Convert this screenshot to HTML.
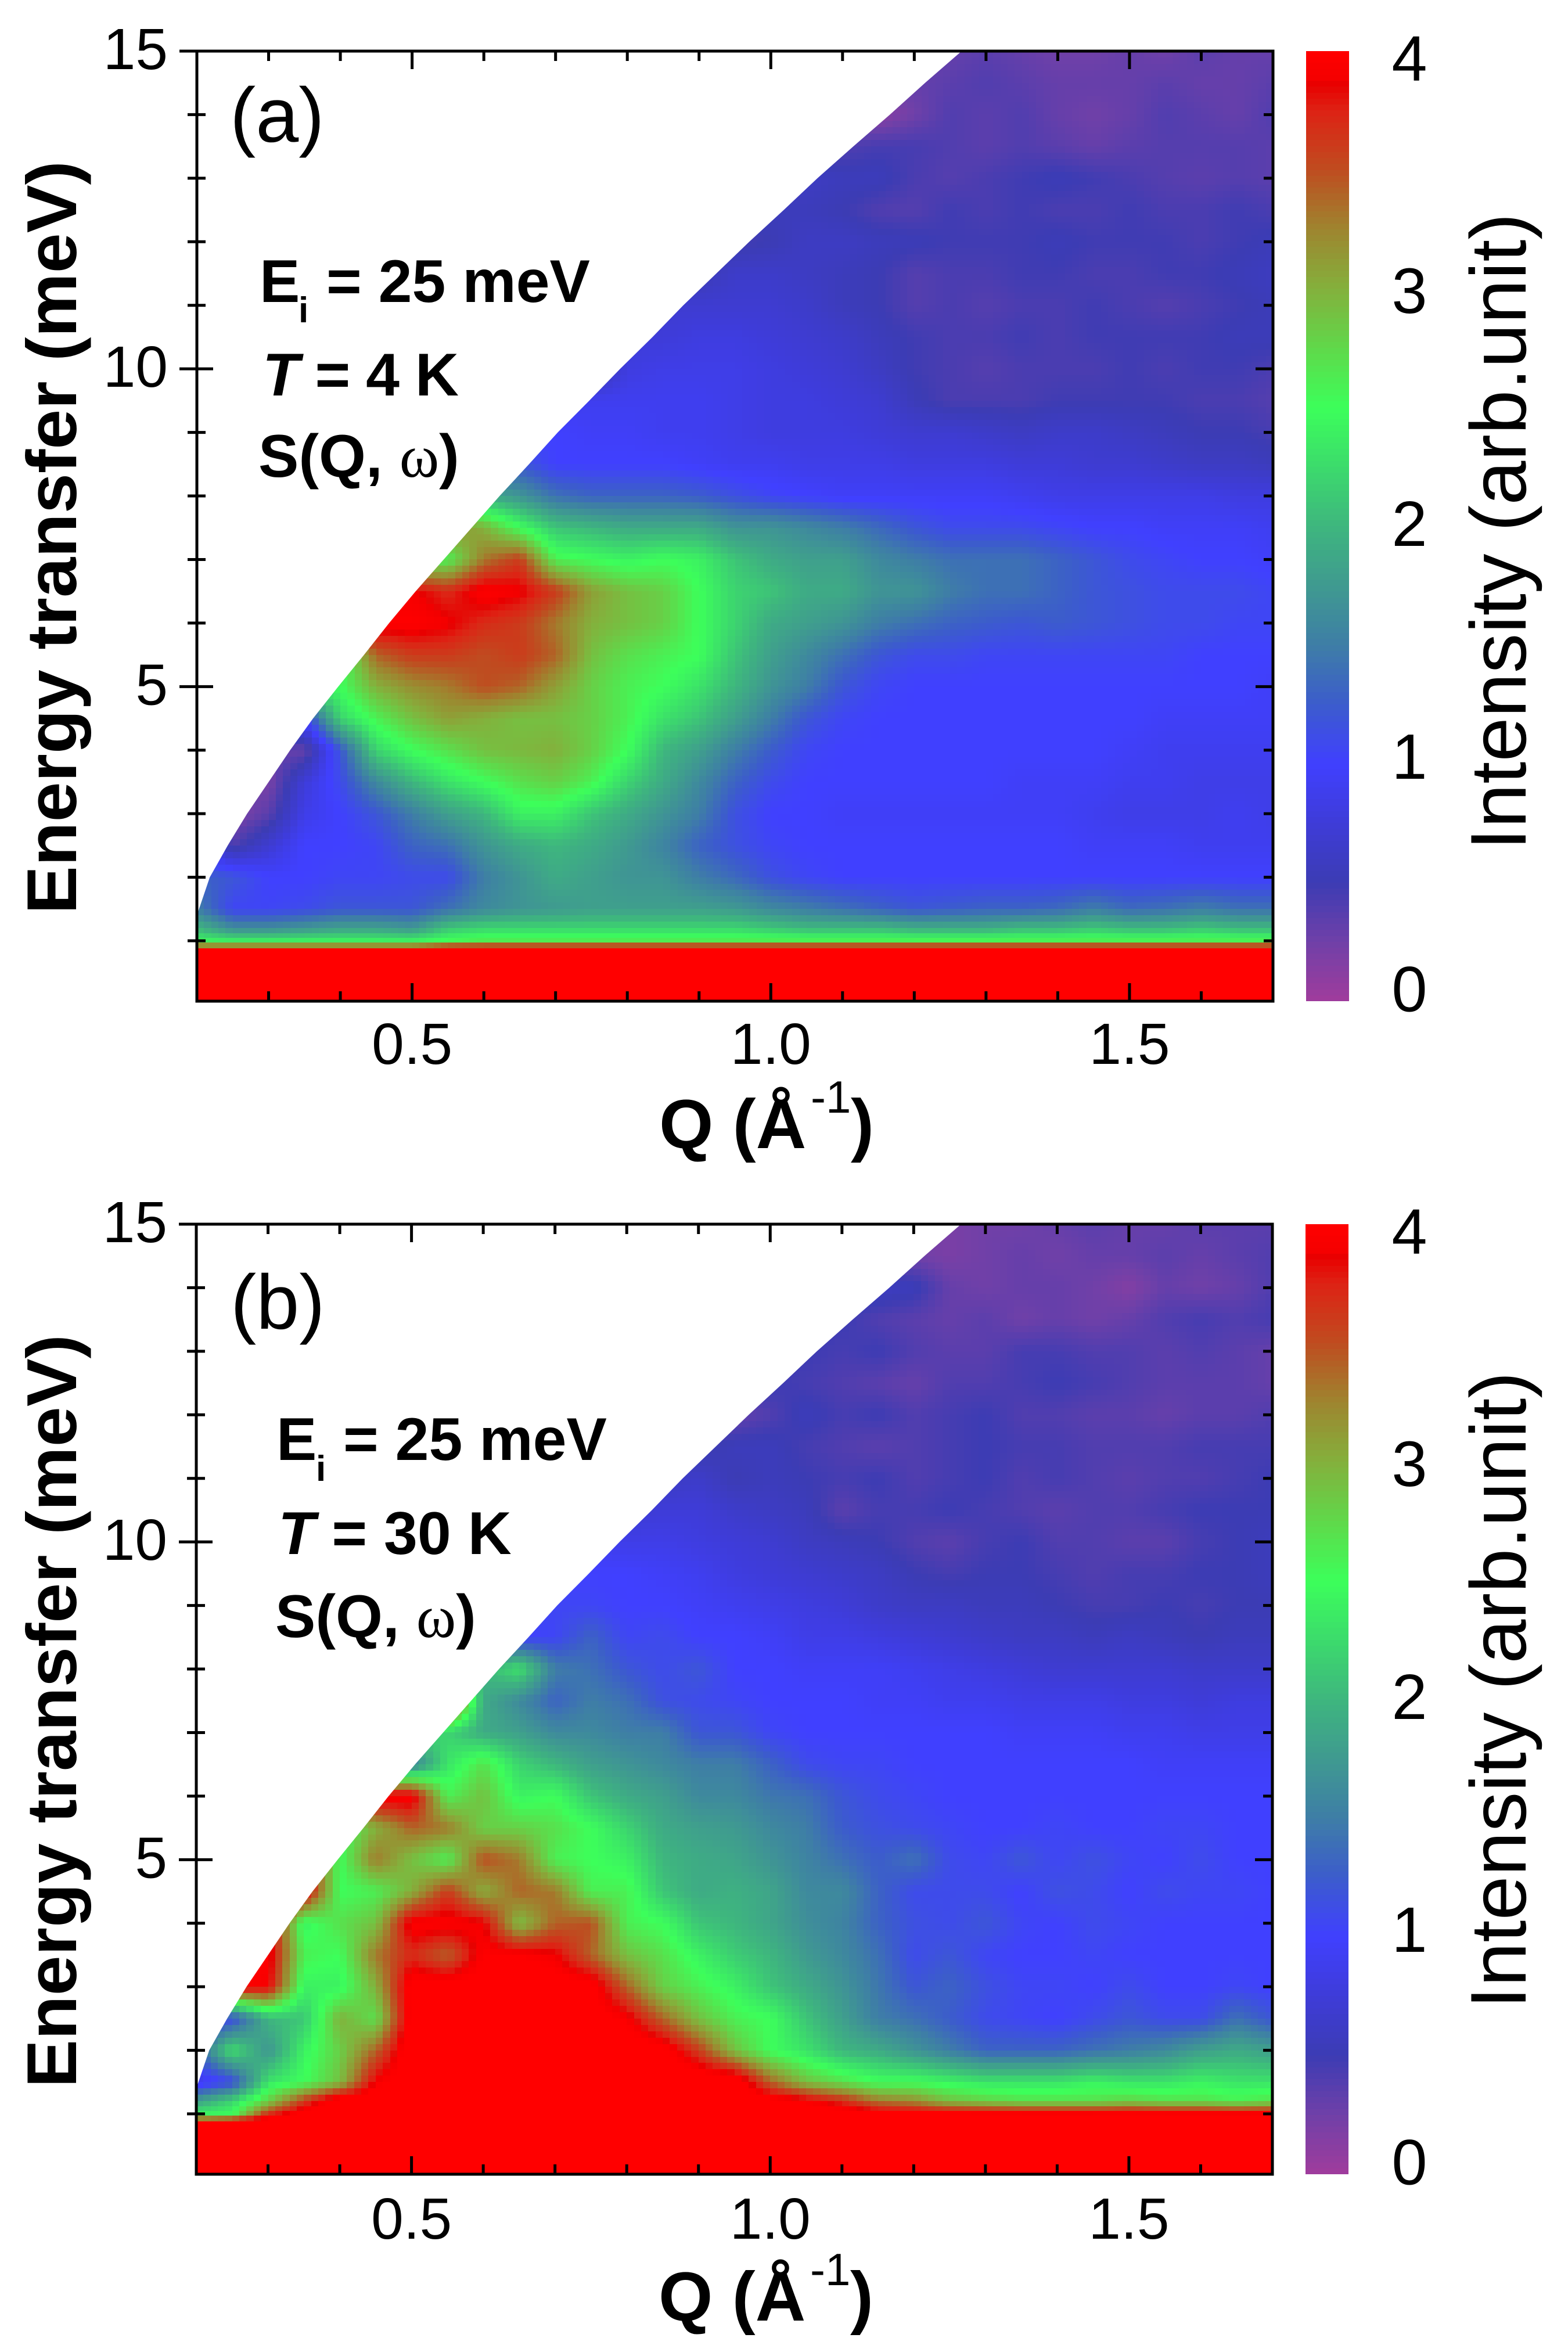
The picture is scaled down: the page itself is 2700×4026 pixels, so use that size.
<!DOCTYPE html>
<html lang="en">
<head>
<meta charset="utf-8">
<title>S(Q, omega) intensity maps at 4 K and 30 K</title>
<style>
html,body{margin:0;padding:0;background:#fff;}
svg{display:block;}
text{font-family:"Liberation Sans",Arial,sans-serif;fill:#000;}
.tick{font-size:100px;}
.cbt{font-size:110px;}
.b{font-weight:bold;}
</style>
</head>
<body>
<svg id="figure" xmlns="http://www.w3.org/2000/svg" width="2700" height="4026" viewBox="0 0 2700 4026">
  <g id="panel-a"></g>
  <g id="panel-b"></g>

  <!-- Panel (a) text -->
  <text x="396" y="244" font-size="133">(a)</text>
  <text class="b" x="447" y="520" font-size="104">E</text>
  <text class="b" x="514" y="555" font-size="62">i</text>
  <text class="b" x="562" y="520" font-size="104">= 25 meV</text>
  <text class="b" x="452" y="681" font-size="104" textLength="338"><tspan font-style="italic">T</tspan> = 4 K</text>
  <text class="b" x="445" y="821" font-size="104">S(Q, <tspan font-family="'Liberation Serif',serif" font-weight="normal">ω</tspan>)</text>
  <text class="b" font-size="122" transform="translate(131,1574) rotate(-90)" textLength="1297" lengthAdjust="spacingAndGlyphs">Energy transfer (meV)</text>
  <text class="b" x="1135" y="1977" font-size="120">Q (Å</text>
  <text x="1396" y="1916" font-size="78">-1</text>
  <text class="b" x="1465" y="1977" font-size="120">)</text>
  <text font-size="136" transform="translate(2627,1464) rotate(-90)" textLength="1097" lengthAdjust="spacingAndGlyphs">Intensity (arb.unit)</text>

  <!-- Panel (b) text -->
  <text x="397" y="2288" font-size="133">(b)</text>
  <text class="b" x="476" y="2514" font-size="104">E</text>
  <text class="b" x="544" y="2550" font-size="62">i</text>
  <text class="b" x="591" y="2514" font-size="104">= 25 meV</text>
  <text class="b" x="479" y="2676" font-size="104"><tspan font-style="italic">T</tspan> = 30 K</text>
  <text class="b" x="474" y="2819" font-size="104">S(Q, <tspan font-family="'Liberation Serif',serif" font-weight="normal">ω</tspan>)</text>
  <text class="b" font-size="122" transform="translate(131,3595) rotate(-90)" textLength="1297" lengthAdjust="spacingAndGlyphs">Energy transfer (meV)</text>
  <text class="b" x="1134" y="3996" font-size="120">Q (Å</text>
  <text x="1395" y="3935" font-size="78">-1</text>
  <text class="b" x="1464" y="3996" font-size="120">)</text>
  <text font-size="136" transform="translate(2627,3459) rotate(-90)" textLength="1097" lengthAdjust="spacingAndGlyphs">Intensity (arb.unit)</text>
</svg>

<script>
// ---------- Axis data ----------
var qLevels = [.2,.25,.3,.35,.4,.45,.5,.55,.6,.65,.7,.75,.8,.85,.9,.95,1,1.05,1.1,1.15,1.2,1.25,1.3,1.35,1.4,1.45,1.5,1.55,1.6,1.65,1.7];
var energyLevels = [15,14.5,14,13.5,13,12.5,12,11.5,11,10.5,10,9.5,9,8.5,8,7.5,7,6.5,6,5.5,5,4.5,4,3.5,3,2.5,2,1.5,1.2,.97,.88,.05];
var qDomain = [.2,1.7];
var energyDomain = [.05,15];
var xMinorTicks = [.3,.4,.6,.7,.8,.9,1.1,1.2,1.3,1.4,1.6];
var xMajorTicks = [.5,1,1.5];
var xTickLabels = ["0.5","1.0","1.5"];
var yMinorTicks = [1,2,3,4,6,7,8,9,11,12,13,14];
var yMajorTicks = [5,10,15];
var yTickLabels = ["5","10","15"];
var colorbarTicks = [0,1,2,3,4];
// Kinematic limit
var boundaryQ = [.2,.218,.243,.27,.3,.33,.362,.397,.433,.468,.505,.544,.583,.622,.663,.703,.747,.79,.835,.878,.924,.97,1.018,1.065,1.115,1.166,1.215,1.266];
var boundaryE = [1.4,2,2.5,3,3.5,4,4.5,5,5.5,6,6.5,7,7.5,8,8.5,9,9.5,10,10.5,11,11.5,12,12.5,13,13.5,14,14.5,15];
// Colour scale
var colormapValues = [0,.25,.5,.75,1,1.25,1.5,1.75,2,2.25,2.5,2.75,3,3.25,3.5,3.75,3.86,3.88,4];
var colormapColors = ["#a03c9c","#7040a8","#3c3cb4","#3e3cd8","#4040ff","#3c5ccc","#3e7ea6","#3f9a90","#3eb67e","#3cdb6c","#3cff5a","#60d84a","#84b03c","#9e852f","#bf4c20","#de2214","#e80000","#f40000","#ff0000"];

// ---------- Intensity maps: rows follow energyLevels, columns follow qLevels ----------
var intensity4K = [
[.3,.3,.3,.3,.3,.3,.3,.3,.3,.3,.3,.3,.3,.3,.3,.3,.3,.3,.3,.3,.3,.3,.35,.3,.25,.25,.3,.25,.35,.3,.3],
[.3,.3,.3,.3,.3,.3,.3,.3,.3,.3,.3,.3,.3,.3,.3,.3,.3,.3,.3,.3,.3,.35,.4,.35,.3,.3,.3,.35,.3,.3,.35],
[.2,.2,.2,.2,.2,.2,.2,.2,.2,.2,.2,.2,.2,.2,.2,.2,.2,.2,.2,.1,.25,.4,.35,.4,.3,.25,.3,.4,.35,.3,.4],
[.4,.4,.4,.4,.4,.4,.4,.4,.4,.4,.4,.4,.4,.4,.4,.4,.4,.4,.4,.45,.45,.4,.35,.4,.35,.3,.35,.38,.38,.38,.35],
[.6,.6,.6,.6,.6,.6,.6,.6,.6,.6,.6,.6,.6,.6,.6,.6,.6,.6,.55,.55,.43,.38,.43,.48,.53,.48,.43,.38,.35,.38,.35],
[.55,.55,.55,.55,.55,.55,.55,.55,.55,.55,.55,.55,.55,.55,.55,.55,.55,.55,.5,.4,.38,.48,.43,.48,.43,.43,.48,.43,.43,.48,.43],
[.5,.5,.5,.5,.5,.5,.5,.5,.5,.5,.5,.5,.5,.5,.5,.45,.5,.6,.6,.55,.53,.48,.48,.48,.53,.48,.48,.48,.43,.48,.53],
[.5,.5,.5,.5,.5,.5,.5,.5,.5,.5,.5,.5,.5,.5,.5,.65,.65,.6,.55,.5,.38,.43,.43,.48,.48,.43,.43,.48,.48,.53,.58],
[.7,.7,.7,.7,.7,.7,.7,.7,.7,.7,.7,.7,.7,.7,.7,.7,.7,.65,.55,.5,.38,.43,.38,.43,.43,.48,.43,.38,.43,.48,.53],
[.75,.75,.75,.75,.75,.75,.75,.75,.75,.75,.75,.75,.75,.75,.8,.8,.75,.7,.65,.55,.48,.43,.43,.48,.43,.48,.48,.48,.48,.53,.53],
[.4,.4,.4,.4,.4,.4,.4,.4,.4,.4,.4,.4,.8,.85,.85,.85,.8,.75,.7,.6,.48,.43,.38,.43,.43,.43,.48,.43,.48,.48,.43],
[.9,.9,.9,.9,.9,.9,.9,.9,.9,.9,.9,.9,.9,.9,.9,.85,.8,.8,.75,.7,.53,.43,.43,.43,.48,.48,.48,.48,.43,.43,.38],
[1,1,1,1,1,1,1,1,1,1,1,.95,.95,.9,.9,.85,.8,.8,.8,.75,.7,.7,.65,.6,.65,.65,.6,.55,.5,.5,.45],
[1.2,1.2,1.2,1.2,1.2,1.2,1.2,1.2,1.2,1.2,1,1,1,1,.95,.9,.9,.85,.85,.85,.8,.8,.8,.75,.75,.7,.7,.65,.6,.6,.55],
[2,2,2,2,2,2,2,2,1.9,1.7,1.4,1.3,1.3,1.3,1.25,1.15,1.05,1,.95,.95,.95,.95,.95,.9,.85,.85,.85,.85,.85,.8,.8],
[3,3,3,3,3,3,3,3.2,3,2.5,2.1,2,1.9,1.9,1.9,1.7,1.7,1.6,1.5,1.35,1.2,1.1,1.1,1.1,1.05,1,1,.95,.95,.95,.9],
[2.6,2.6,2.6,2.6,2.6,2.6,2.6,2.6,3.3,3.6,2.6,2.5,2.4,2.5,2.4,2.1,1.9,1.8,1.8,1.6,1.5,1.4,1.4,1.4,1.3,1.2,1.1,1.05,1,1,.95],
[3.9,3.9,3.9,3.9,3.9,3.9,3.9,3.7,4,3.9,3.6,3.1,2.9,2.8,2.5,2.2,2.1,1.9,1.9,1.7,1.7,1.5,1.4,1.4,1.3,1.2,1.15,1.1,1.1,1.1,1.05],
[4,4,4,4,4,4,4,3.9,3.7,3.6,3.3,3,2.9,2.8,2.5,2.2,1.9,1.8,1.7,1.5,1.4,1.3,1.25,1.2,1.25,1.2,1.15,1.1,1.1,1.05,1.05],
[2.5,2.5,2.5,2.5,2.5,3.4,3.6,3.6,3.5,3.6,3.4,2.9,2.7,2.6,2.5,2.1,1.8,1.6,1.4,1.2,1.1,1.1,1.05,1.05,1.05,1.05,1.05,1.05,1,1,1],
[2.4,2.4,2.4,2.4,2.5,3,3.2,3.3,3.5,3.4,3.1,2.8,2.6,2.5,2.3,2,1.7,1.5,1.2,1.05,1,1,1,1,1,1,1,1,1,1,.95],
[1.3,1.3,1.3,1,2.2,2.6,2.9,3.1,3,2.9,2.9,2.8,2.6,2.3,2.1,1.8,1.5,1.2,1.05,1,1,1,1,1,1,1,1,.95,.95,.95,.95],
[.3,.3,.3,.3,1.2,2.2,2.5,2.7,2.9,2.95,3,2.8,2.5,2,1.8,1.5,1.25,1.05,1,1,1,1,1,1,1,1,.95,.9,.9,.9,.9],
[.3,.3,.2,.75,1.1,1.6,2,2.3,2.5,2.7,2.8,2.6,2.2,1.9,1.6,1.3,1.1,1,1,1,1,1,1,.95,.95,.95,.9,.9,.85,.85,.85],
[.15,.15,.35,.85,1,1.2,1.5,1.8,2,2.4,2.4,2.1,1.9,1.7,1.5,1.15,1,1,.95,.95,.95,.95,.95,.95,.95,.9,.85,.85,.85,.9,.85],
[1,.4,.7,1,1,1.05,1.3,1.4,1.7,1.9,2,1.9,1.75,1.55,1.3,1.15,1.05,1,1,1,1,1,1,1,1,.95,.95,.95,.9,.9,.9],
[1.3,1.2,1,1,1.05,1.05,1.1,1.1,1.5,1.7,1.9,1.8,1.7,1.7,1.5,1.35,1.15,1.05,1,1,1,1,1,1,1,1,1,1,1,1,1],
[1.5,1.05,1.05,1.1,1.2,1.2,1.2,1.4,1.6,1.7,1.75,1.8,1.8,1.8,1.8,1.75,1.6,1.5,1.4,1.3,1.2,1.25,1.3,1.3,1.35,1.5,1.35,1.4,1.5,1.4,1.4],
[2,1.6,1.6,1.7,1.8,1.8,1.7,2.1,2.2,2.2,2.2,2.2,2.2,2.2,2.2,2.2,2.1,2,2,2,1.9,1.9,1.9,2,2,2.1,2,2,2.1,2,2],
[2.5,2.5,2.5,2.5,2.5,2.5,2.5,2.6,2.7,2.7,2.7,2.7,2.7,2.7,2.7,2.7,2.7,2.7,2.7,2.7,2.7,2.7,2.7,2.7,2.7,2.7,2.7,2.7,2.7,2.7,2.7],
[3.8,3.8,3.8,3.8,3.8,3.8,3.8,4.2,4.2,4.2,4.2,4.2,4.2,4.2,4.2,4.2,4.2,4.2,4.2,4.2,4.2,4.2,4.2,4.2,4.2,4.2,4.2,4.2,4.2,4.2,4.2],
[4.3,4.3,4.3,4.3,4.3,4.3,4.3,4.3,4.3,4.3,4.3,4.3,4.3,4.3,4.3,4.3,4.3,4.3,4.3,4.3,4.3,4.3,4.3,4.3,4.3,4.3,4.3,4.3,4.3,4.3,4.3]
];
var intensity30K = [
[.2,.2,.2,.2,.2,.2,.2,.2,.2,.2,.2,.2,.2,.2,.2,.2,.2,.2,.2,.2,.2,.2,.25,.25,.3,.35,.3,.3,.35,.35,.35],
[.25,.25,.25,.25,.25,.25,.25,.25,.25,.25,.25,.25,.25,.25,.25,.25,.25,.25,.25,.25,.25,.2,.25,.3,.25,.3,.3,.35,.3,.35,.4],
[.6,.6,.6,.6,.6,.6,.6,.6,.6,.6,.6,.6,.6,.6,.6,.6,.6,.6,.6,.6,.55,.3,.25,.3,.3,.25,.15,.3,.25,.3,.4],
[.5,.5,.5,.5,.5,.5,.5,.5,.5,.5,.5,.5,.5,.5,.5,.5,.5,.5,.5,.4,.35,.3,.35,.25,.3,.25,.3,.4,.45,.4,.45],
[.5,.5,.5,.5,.5,.5,.5,.5,.5,.5,.5,.5,.5,.5,.5,.5,.5,.5,.45,.5,.4,.35,.35,.45,.45,.4,.4,.35,.4,.35,.3],
[.5,.5,.5,.5,.5,.5,.5,.5,.5,.5,.5,.5,.5,.5,.5,.5,.5,.45,.4,.35,.3,.4,.4,.45,.5,.45,.4,.35,.35,.35,.3],
[.3,.3,.3,.3,.3,.3,.3,.3,.3,.3,.3,.3,.3,.3,.3,.3,.4,.55,.45,.5,.4,.45,.5,.4,.4,.35,.35,.3,.35,.35,.4],
[.45,.45,.45,.45,.45,.45,.45,.45,.45,.45,.45,.45,.45,.45,.45,.55,.55,.45,.4,.35,.4,.45,.5,.45,.45,.4,.4,.4,.45,.45,.45],
[.6,.6,.6,.6,.6,.6,.6,.6,.6,.6,.6,.6,.6,.6,.65,.5,.55,.5,.45,.5,.4,.45,.5,.4,.45,.4,.35,.4,.4,.45,.5],
[.7,.7,.7,.7,.7,.7,.7,.7,.7,.7,.7,.7,.7,.75,.75,.65,.6,.55,.35,.45,.45,.5,.45,.4,.35,.4,.4,.45,.5,.5,.5],
[.9,.9,.9,.9,.9,.9,.9,.9,.9,.9,.9,.9,.85,.85,.8,.75,.7,.6,.55,.5,.4,.35,.45,.5,.4,.4,.35,.35,.45,.5,.55],
[1,1,1,1,1,1,1,1,1,1,1,1,1,.95,.9,.8,.75,.7,.65,.6,.5,.45,.5,.5,.45,.4,.45,.45,.5,.5,.55],
[1.05,1.05,1.05,1.05,1.05,1.05,1.05,1.05,1.05,1.05,1.05,1.05,1,1,.95,.9,.85,.8,.75,.65,.6,.6,.55,.55,.5,.45,.45,.5,.45,.5,.5],
[1,1,1,1,1,1,1,1,1,1,1.05,1.3,1.05,1.1,1,1,.95,.85,.85,.8,.75,.7,.65,.6,.6,.55,.6,.55,.5,.55,.55],
[2,2,2,2,2,2,2,2,2,2.3,1.5,1.4,1.2,1.1,1.2,1,1,.95,.95,.95,.9,.85,.8,.75,.7,.7,.7,.7,.65,.65,.65],
[4,4,4,4,4,4,4,4,1.9,1.6,1.3,1.5,1.4,1.15,1.1,1.05,1,1,1,.95,.95,.9,.9,.85,.85,.85,.8,.8,.75,.8,.8],
[2.2,2.2,2.2,2.2,2.2,2.2,2.2,2.2,1.9,1.8,1.6,1.6,1.5,1.5,1.2,1.2,1.05,1,1,1,1,1,1,.95,.95,.95,.9,.9,.85,.85,.85],
[1.5,1.5,1.5,1.5,1.5,1.5,1.5,2.3,2.7,2.2,2,1.8,1.7,1.6,1.5,1.5,1.3,1.1,1.05,1.05,1,1,1,1,1,1,1,.95,.95,.95,.95],
[4,4,4,4,4,4,4,2.6,2.9,2.4,2.5,2.1,1.9,1.8,1.6,1.6,1.45,1.4,1.2,1.1,1.05,1,1,1,1,1,1,1,1,1,1],
[2.5,2.5,2.5,2.5,2.5,3,3.4,3.3,2.8,2.8,2.7,2.5,2.2,1.9,1.8,1.75,1.6,1.5,1.25,1.15,1.1,1.05,1,1,1.05,1,1,1.05,1.05,1,1],
[4,4,4,4,2.5,3.3,2.9,2.6,3.5,3.3,2.6,2.5,2.4,2,1.9,1.85,1.7,1.55,1.4,1.25,1.4,1.1,1.05,1.2,1.05,1.15,1.05,1,1.1,1,1],
[4,4,4,4,2.5,2.6,3,3.6,3,3.4,3.3,2.6,2.6,2.1,1.9,1.95,1.85,1.6,1.6,1.3,1.1,1.1,1.1,1,1.15,1.1,1,1.1,1.05,1.05,1],
[4,4,4,2.4,2.7,2.9,4,4,3.9,2.9,3.4,3.5,2.6,2.5,2.1,2,1.85,1.65,1.55,1.3,1.15,1.1,1.2,1.05,1,1.1,1.05,1,1,1,1],
[4,4,4,2.6,2.5,3.3,3.7,3.4,4,4,3.9,3.4,2.9,2.7,2.4,2.15,2,1.75,1.6,1.4,1.1,1.2,1.05,1,1,1.05,1,1,1,1,1],
[4,4,3.9,2.4,2.4,3,4.1,4.1,4.1,4.1,4.1,4.1,3.4,2.8,2.6,2.4,2.1,1.9,1.7,1.45,1.2,1.3,1.15,1.05,1.05,1,1.1,1,1,1.05,1],
[1,1.1,2,2.1,3,2.7,4.1,4.1,4.1,4.1,4.1,4.1,3.95,3.4,2.9,2.6,2.5,2.1,1.8,1.5,1.4,1.25,1.1,1.05,1,1.1,1.2,1.1,1.1,1.4,1.2],
[1.3,2.3,1.7,2.4,2.8,3.4,4.2,4.2,4.2,4.2,4.2,4.2,4.2,4.1,3.6,2.9,2.5,2.3,2,1.9,1.7,1.5,1.3,1.3,1.3,1.4,1.5,1.6,1.8,1.9,1.8],
[.8,1.1,2.3,2.5,2.9,3.9,4.2,4.2,4.2,4.2,4.2,4.2,4.2,4.2,4.2,4.2,3.4,2.9,2.7,2.5,2.5,2.4,2.3,2.3,2.3,2.4,2.3,2.3,2.4,2.3,2.3],
[1.8,2.2,2.8,3.6,4.2,4.2,4.2,4.2,4.2,4.2,4.2,4.2,4.2,4.2,4.2,4.2,4.1,3.95,3.7,3.3,3.2,2.9,2.8,2.7,2.7,2.7,2.8,2.7,2.7,2.6,2.7],
[2.5,2.5,3.8,4.2,4.2,4.2,4.2,4.2,4.2,4.2,4.2,4.2,4.2,4.2,4.2,4.2,4.2,4.2,4.2,4.2,4.2,4.2,4.2,4.2,4.2,4.2,4.2,4.2,4.2,4.2,4.2],
[3.9,4.2,4.2,4.2,4.2,4.2,4.2,4.2,4.2,4.2,4.2,4.2,4.2,4.2,4.2,4.2,4.2,4.2,4.2,4.2,4.2,4.2,4.2,4.2,4.2,4.2,4.2,4.2,4.2,4.2,4.2],
[4.3,4.3,4.3,4.3,4.3,4.3,4.3,4.3,4.3,4.3,4.3,4.3,4.3,4.3,4.3,4.3,4.3,4.3,4.3,4.3,4.3,4.3,4.3,4.3,4.3,4.3,4.3,4.3,4.3,4.3,4.3]
];

// ---------- Helpers ----------
var NS = "http://www.w3.org/2000/svg";
function hexToRgb(h){return [parseInt(h.slice(1,3),16),parseInt(h.slice(3,5),16),parseInt(h.slice(5,7),16)];}
var colormapRgb = colormapColors.map(hexToRgb);
function colorOf(v){
  if(v<=colormapValues[0]) v=colormapValues[0];
  var last=colormapValues.length-1;
  if(v>=colormapValues[last]) return "rgb("+colormapRgb[last].join(",")+")";
  var i=0;
  while(v>colormapValues[i+1]) i++;
  var t=(v-colormapValues[i])/(colormapValues[i+1]-colormapValues[i]);
  var a=colormapRgb[i],b=colormapRgb[i+1];
  return "rgb("+Math.round(a[0]+(b[0]-a[0])*t)+","+Math.round(a[1]+(b[1]-a[1])*t)+","+Math.round(a[2]+(b[2]-a[2])*t)+")";
}
function boundaryEnergyAt(q){
  if(q<=boundaryQ[0]) return boundaryE[0];
  for(var i=0;i<boundaryQ.length-1;i++){
    if(q<=boundaryQ[i+1]){
      return boundaryE[i]+(boundaryE[i+1]-boundaryE[i])*(q-boundaryQ[i])/(boundaryQ[i+1]-boundaryQ[i]);
    }
  }
  return 99;
}
function line(parent,x1,y1,x2,y2,name){
  var el=document.createElementNS(NS,"line");
  el.setAttribute("x1",x1);el.setAttribute("y1",y1);el.setAttribute("x2",x2);el.setAttribute("y2",y2);
  el.setAttribute("stroke","#000");el.setAttribute("stroke-width","5");
  
  
  parent.appendChild(el);
}
function label(parent,txt,x,y,cls,anchor,name){
  var el=document.createElementNS(NS,"text");
  el.setAttribute("x",x);el.setAttribute("y",y);el.setAttribute("class",cls);el.setAttribute("text-anchor",anchor);
  el.textContent=txt;
  
  
  parent.appendChild(el);
}

// ---------- Panel drawing ----------
function drawPanel(root,id,matrix,L,T,R,B,barL,barR,yLabelShift,xLabelY,barShift){
  function xOf(q){return L+(q-qDomain[0])*(R-L)/(qDomain[1]-qDomain[0]);}
  function yOf(e){return B-(e-energyDomain[0])*(B-T)/(energyDomain[1]-energyDomain[0]);}

  // clip to the kinematically accessible region
  var clip=document.createElementNS(NS,"clipPath");
  clip.setAttribute("id","clip-"+id);
  var poly=document.createElementNS(NS,"polygon");
  var pts=[[xOf(qDomain[0]),yOf(energyDomain[0])]];
  for(var p=0;p<boundaryQ.length;p++){pts.push([xOf(boundaryQ[p]),yOf(boundaryE[p])]);}
  pts.push([xOf(qDomain[1]),yOf(15)]);
  pts.push([xOf(qDomain[1]),yOf(energyDomain[0])]);
  poly.setAttribute("points",pts.map(function(a){return a.join(",");}).join(" "));
  clip.appendChild(poly);
  root.appendChild(clip);

  var heat=document.createElementNS(NS,"g");
  heat.setAttribute("clip-path","url(#clip-"+id+")");
  heat.setAttribute("shape-rendering","crispEdges");
  
  
  root.appendChild(heat);

  for(var r=0;r<energyLevels.length-1;r++){
    var eTop=energyLevels[r],eBot=energyLevels[r+1];
    var rowPx=yOf(eBot)-yOf(eTop);
    var ny=Math.max(1,Math.ceil(rowPx/11));
    if(eBot<.5) ny=1;
    for(var c=0;c<qLevels.length-1;c++){
      var cell=document.createElementNS(NS,"g");
      
      
      var nx=5;
      for(var j=0;j<ny;j++){
        var s0=j/ny,s1=(j+1)/ny,sm=(s0+s1)/2;
        var e0=eTop+(eBot-eTop)*s0,e1=eTop+(eBot-eTop)*s1;
        var y0=Math.round(yOf(e0)),y1=Math.round(yOf(e1));
        if(y1<=y0) continue;
        for(var i=0;i<nx;i++){
          var t0=i/nx,t1=(i+1)/nx,tm=(t0+t1)/2;
          var q0=qLevels[c]+(qLevels[c+1]-qLevels[c])*t0,q1=qLevels[c]+(qLevels[c+1]-qLevels[c])*t1;
          if(e1>boundaryEnergyAt(q1)+.15) continue;
          var x0=Math.round(xOf(q0)),x1=Math.round(xOf(q1));
          var v=(matrix[r][c]*(1-tm)+matrix[r][c+1]*tm)*(1-sm)+(matrix[r+1][c]*(1-tm)+matrix[r+1][c+1]*tm)*sm;
          var rect=document.createElementNS(NS,"rect");
          rect.setAttribute("x",x0);rect.setAttribute("y",y0);
          rect.setAttribute("width",x1-x0);rect.setAttribute("height",y1-y0);
          rect.setAttribute("fill",colorOf(v));
          cell.appendChild(rect);
        }
      }
      if(cell.firstChild) heat.appendChild(cell);
    }
  }

  // frame
  var frame=document.createElementNS(NS,"rect");
  frame.setAttribute("x",L);frame.setAttribute("y",T);frame.setAttribute("width",R-L);frame.setAttribute("height",B-T);
  frame.setAttribute("fill","none");frame.setAttribute("stroke","#000");frame.setAttribute("stroke-width","5");
  
  
  root.appendChild(frame);

  // x ticks
  xMinorTicks.forEach(function(q){
    line(root,xOf(q),T,xOf(q),T+17,"x-minor-tick-top");
    line(root,xOf(q),B,xOf(q),B-17,"x-minor-tick-bottom");
  });
  xMajorTicks.forEach(function(q,k){
    line(root,xOf(q),T,xOf(q),T+31,"x-major-tick-top");
    line(root,xOf(q),B,xOf(q),B-31,"x-major-tick-bottom");
    label(root,xTickLabels[k],xOf(q),xLabelY,"tick","middle","x-tick-label");
  });
  // y ticks
  yMinorTicks.forEach(function(e){
    line(root,L-16,yOf(e),L+15,yOf(e),"y-minor-tick-left");
    line(root,R-16,yOf(e),R,yOf(e),"y-minor-tick-right");
  });
  yMajorTicks.forEach(function(e,k){
    line(root,L-30,yOf(e),L+28,yOf(e),"y-major-tick-left");
    line(root,R-30,yOf(e),R,yOf(e),"y-major-tick-right");
    label(root,yTickLabels[k],L-50,yOf(e)+yLabelShift,"tick","end","y-tick-label");
  });

  // colour bar
  var bar=document.createElementNS(NS,"g");
  bar.setAttribute("shape-rendering","crispEdges");
  
  
  root.appendChild(bar);
  function barY(v){return B-(v-colorbarTicks[0])*(B-T)/(colorbarTicks[colorbarTicks.length-1]-colorbarTicks[0]);}
  var bands=160;
  for(var n=0;n<bands;n++){
    var v0=4*n/bands,v1=4*(n+1)/bands;
    var by0=Math.round(barY(v1)),by1=Math.round(barY(v0));
    var band=document.createElementNS(NS,"rect");
    band.setAttribute("x",barL);band.setAttribute("y",by0);
    band.setAttribute("width",barR-barL);band.setAttribute("height",by1-by0);
    band.setAttribute("fill",colorOf((v0+v1)/2));
    
    
    bar.appendChild(band);
  }
  colorbarTicks.forEach(function(v){
    var yy=barY(v)*0.98+ (T+B)/2*0.02 + barShift;
    label(root,String(v),2427,yy,"cbt","middle","colorbar-tick-label");
  });
}

drawPanel(document.getElementById("panel-a"),"a",intensity4K,339,88,2192,1724,2249,2323,31,1832,34);
drawPanel(document.getElementById("panel-b"),"b",intensity30K,338,2108,2191,3744,2248,2322,31,3855,34);
</script>
</body>
</html>
